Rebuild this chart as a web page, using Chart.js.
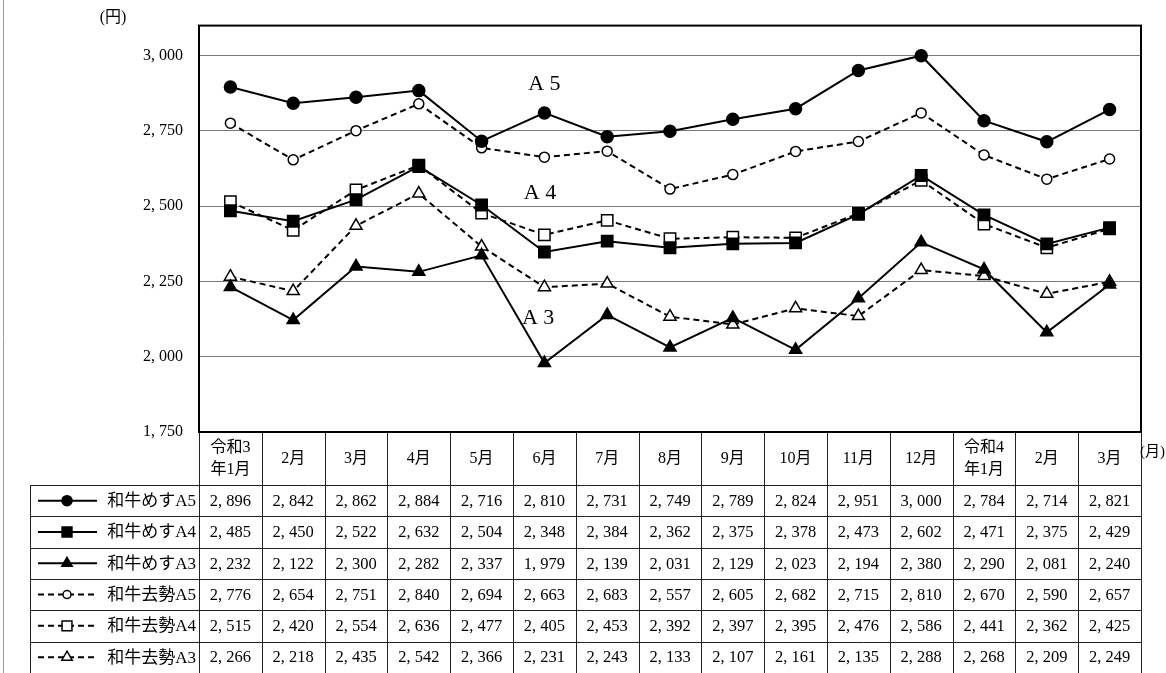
<!DOCTYPE html>
<html>
<head>
<meta charset="utf-8">
<script src="https://cdn.jsdelivr.net/npm/chart.js@4"></script>
<style>
  body { margin: 0; background: #fff; }
  canvas { display: block; }
</style>
</head>
<body>
<canvas id="priceChart" width="1166" height="673"></canvas>
<script>
// 枝肉価格の推移（円/kg）
const months = [['令和3', '年1月'], '2月', '3月', '4月', '5月', '6月', '7月', '8月', '9月', '10月', '11月', '12月', ['令和4', '年1月'], '2月', '3月'];
const mesuA5 = [2896, 2842, 2862, 2884, 2716, 2810, 2731, 2749, 2789, 2824, 2951, 3000, 2784, 2714, 2821];
const mesuA4 = [2485, 2450, 2522, 2632, 2504, 2348, 2384, 2362, 2375, 2378, 2473, 2602, 2471, 2375, 2429];
const mesuA3 = [2232, 2122, 2300, 2282, 2337, 1979, 2139, 2031, 2129, 2023, 2194, 2380, 2290, 2081, 2240];
const kyoA5 = [2776, 2654, 2751, 2840, 2694, 2663, 2683, 2557, 2605, 2682, 2715, 2810, 2670, 2590, 2657];
const kyoA4 = [2515, 2420, 2554, 2636, 2477, 2405, 2453, 2392, 2397, 2395, 2476, 2586, 2441, 2362, 2425];
const kyoA3 = [2266, 2218, 2435, 2542, 2366, 2231, 2243, 2133, 2107, 2161, 2135, 2288, 2268, 2209, 2249];
const yTicks = [1750, 2000, 2250, 2500, 2750, 3000];
// グラフ中のラベル（位置はデータ座標）
const gradeLabels = [
	{ text: 'A 5', x: 5, y: 2904 },
	{ text: 'A 4', x: 4.93, y: 2544 },
	{ text: 'A 3', x: 4.9, y: 2127 }
];

const SERIF = '"Liberation Serif", "Noto Sans CJK JP", serif';
const fmt = v => v.toLocaleString('en-US').replace(',', ', ');

function series(label, data, style, open) {
	return {
		label: label,
		data: data,
		borderColor: '#000',
		borderWidth: 2,
		borderDash: open ? [6, 4] : [],
		tension: 0,
		pointStyle: style,
		pointRadius: style === 'circle' ? (open ? 5 : 6) : (style === 'rect' ? 8 : 7),
		pointBackgroundColor: open ? '#fff' : '#000',
		pointBorderColor: '#000',
		pointBorderWidth: 1.5
	};
}

const datasets = [
	series('和牛めすA5', mesuA5, 'circle', false),
	series('和牛めすA4', mesuA4, 'rect', false),
	series('和牛めすA3', mesuA3, 'triangle', false),
	series('和牛去勢A5', kyoA5, 'circle', true),
	series('和牛去勢A4', kyoA4, 'rect', true),
	series('和牛去勢A3', kyoA3, 'triangle', true)
];

// 枠・ラベル・データ表を描く
const tablePlugin = {
	id: 'tablePlugin',
	afterDraw(chart) {
		const ctx = chart.ctx;
		const ca = chart.chartArea;
		const xs = chart.scales.x;
		const ys = chart.scales.y;
		const colW = (ca.right - ca.left) / months.length;
		const headB = ca.bottom + 53;
		const rowH = 31.3;
		const H = chart.height;

		ctx.save();
		// 左端の線
		ctx.strokeStyle = '#999';
		ctx.lineWidth = 1;
		ctx.beginPath();
		ctx.moveTo(3.5, 0);
		ctx.lineTo(3.5, H);
		ctx.stroke();

		// 表の罫線
		ctx.strokeStyle = '#222';
		ctx.beginPath();
		for (let i = 0; i <= months.length; i++) {
			const x = Math.round(ca.left + i * colW) + 0.5;
			ctx.moveTo(x, ca.bottom);
			ctx.lineTo(x, H);
		}
		ctx.moveTo(30.5, headB);
		ctx.lineTo(30.5, H);
		for (let r = 0; r < datasets.length; r++) {
			const y = Math.round(headB + r * rowH) + 0.5;
			ctx.moveTo(30, y);
			ctx.lineTo(ca.right, y);
		}
		ctx.stroke();

		// グラフ枠
		ctx.strokeStyle = '#000';
		ctx.lineWidth = 2;
		ctx.strokeRect(ca.left, ca.top, ca.right - ca.left, ca.bottom - ca.top);

		ctx.fillStyle = '#000';
		ctx.textAlign = 'center';
		ctx.textBaseline = 'middle';

		// 月ラベル
		ctx.font = '16px ' + SERIF;
		months.forEach((m, i) => {
			const x = xs.getPixelForValue(i);
			const mid = (ca.bottom + headB) / 2;
			if (Array.isArray(m)) {
				ctx.fillText(m[0], x, mid - 11);
				ctx.fillText(m[1], x, mid + 11);
			} else {
				ctx.fillText(m, x, mid);
			}
		});

		// データ行
		datasets.forEach((ds, r) => {
			const yc = headB + r * rowH + rowH / 2;
			ctx.font = '16.5px ' + SERIF;
			ctx.textAlign = 'center';
			ds.data.forEach((v, i) => {
				ctx.fillText(fmt(v), xs.getPixelForValue(i), yc + 1);
			});
			ctx.font = '17px ' + SERIF;
			ctx.textAlign = 'right';
			ctx.fillText(ds.label, ca.left - 3, yc + 1);
			// 凡例の線とマーカー
			ctx.save();
			ctx.lineWidth = 2;
			ctx.setLineDash(ds.borderDash);
			ctx.beginPath();
			ctx.moveTo(38, yc);
			ctx.lineTo(97, yc);
			ctx.stroke();
			ctx.restore();
			ctx.save();
			ctx.fillStyle = ds.pointBackgroundColor;
			ctx.strokeStyle = '#000';
			ctx.lineWidth = 1.5;
			Chart.helpers.drawPoint(ctx, { pointStyle: ds.pointStyle, radius: ds.pointRadius - 1, rotation: 0, borderWidth: 1.5 }, 67, yc);
			ctx.restore();
		});

		// グレードラベル
		ctx.textAlign = 'center';
		ctx.font = '22px ' + SERIF;
		gradeLabels.forEach(g => {
			ctx.fillText(g.text, xs.getPixelForValue(g.x), ys.getPixelForValue(g.y));
		});

		// 単位
		ctx.font = '16px ' + SERIF;
		ctx.fillText('(円)', 113, 18);
		ctx.textAlign = 'right';
		ctx.font = '15px ' + SERIF;
		ctx.fillText('(月)', 1165, 452);
		ctx.restore();
	}
};

new Chart(document.getElementById('priceChart').getContext('2d'), {
	type: 'line',
	data: {
		labels: months.map(m => Array.isArray(m) ? m.join('') : m),
		datasets: datasets
	},
	options: {
		responsive: false,
		animation: false,
		layout: { padding: { left: 0, top: 24, right: 25, bottom: 241 } },
		plugins: {
			legend: { display: false },
			tooltip: { enabled: false }
		},
		scales: {
			x: {
				display: false,
				offset: true
			},
			y: {
				min: 1750,
				max: 3100,
				afterBuildTicks: s => { s.ticks = yTicks.map(v => ({ value: v })); },
				afterFit: s => { s.width = 199; },
				border: { display: false },
				grid: { color: '#7a7a7a', lineWidth: 1, drawTicks: false },
				ticks: {
					padding: 16,
					color: '#000',
					font: { family: SERIF, size: 16 },
					callback: v => fmt(v)
				}
			}
		}
	},
	plugins: [tablePlugin]
});
</script>
</body>
</html>
